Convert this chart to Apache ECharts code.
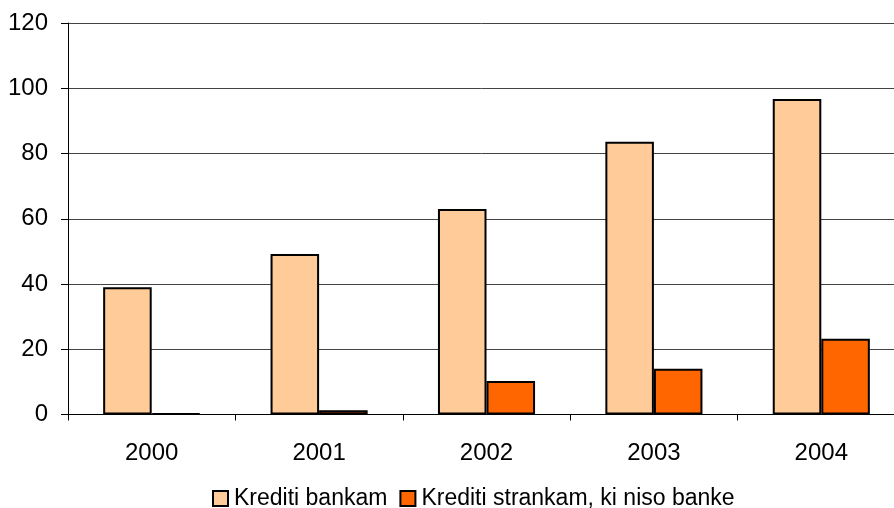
<!DOCTYPE html>
<html><head><meta charset="utf-8">
<script src="https://cdn.jsdelivr.net/npm/echarts@6/dist/echarts.min.js"></script>
<style>html,body{margin:0;padding:0;background:#fff}#c{width:894px;height:508px}</style>
</head><body><div id="c"></div>
<script>
var categories = ['2000', '2001', '2002', '2003', '2004'];
var seriesNames = ['Krediti bankam', 'Krediti strankam, ki niso banke'];
var banks = [39.0, 49.2, 63.0, 83.6, 96.7];
var nonBanks = [0.3, 1.3, 10.3, 14.0, 23.2];

var chart = echarts.init(document.getElementById('c'));
var font = 'Liberation Sans, Arial, sans-serif';
chart.setOption({
  animation: false,
  backgroundColor: '#fff',
  grid: { left: 68, width: 837, top: 23, height: 391.5, outerBoundsMode: 'none', containLabel: false },
  legend: {
    top: 482, left: 207,
    icon: 'rect', itemWidth: 15, itemHeight: 15, itemGap: 12,
    textStyle: { fontFamily: font, fontSize: 23, color: '#000', padding: [0, 0, 0, 1] },
    data: seriesNames
  },
  xAxis: {
    type: 'category', data: categories,
    axisLine: { lineStyle: { color: '#000', width: 1 } },
    axisTick: { show: true, length: 6, lineStyle: { color: '#000' }, alignWithLabel: false },
    axisLabel: { fontFamily: font, fontSize: 24, color: '#000', margin: 27 }
  },
  yAxis: {
    type: 'value', min: 0, max: 120, interval: 20,
    axisLine: { show: true, lineStyle: { color: '#000', width: 1 } },
    axisTick: { show: true, length: 7, lineStyle: { color: '#000' } },
    axisLabel: { fontFamily: font, fontSize: 24, color: '#000', margin: 20 },
    splitLine: { lineStyle: { color: '#444', width: 1 } }
  },
  series: [
    { name: seriesNames[0], type: 'bar', data: banks, barGap: '0%', barCategoryGap: '42%',
      itemStyle: { color: '#FFCC99', borderColor: '#000', borderWidth: 2 } },
    { name: seriesNames[1], type: 'bar', data: nonBanks,
      itemStyle: { color: '#FF6600', borderColor: '#000', borderWidth: 2 } }
  ]
});
</script></body></html>
